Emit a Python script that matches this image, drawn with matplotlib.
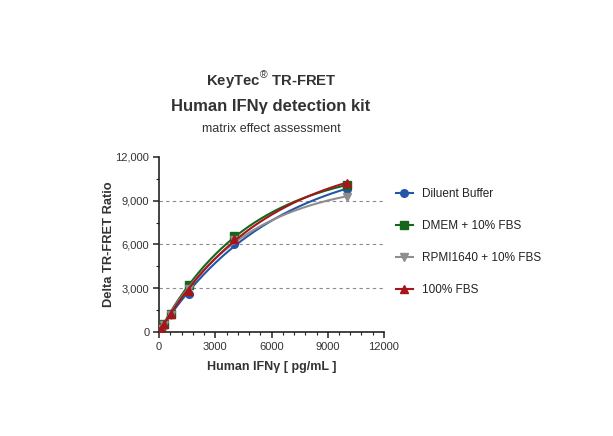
import numpy as np
import matplotlib
matplotlib.use("Agg")
import matplotlib.pyplot as plt
from matplotlib.ticker import FuncFormatter, MultipleLocator, AutoMinorLocator

plt.rcParams["font.family"] = ["Liberation Sans", "DejaVu Sans"]
plt.rcParams["mathtext.fontset"] = "custom"
plt.rcParams["mathtext.rm"] = "Liberation Sans"
plt.rcParams["mathtext.bf"] = "Liberation Sans:bold"

# standard concentrations (pg/mL)
conc = [0, 16, 41, 102, 256, 640, 1600, 4000, 10000]

series = ["Diluent Buffer", "DMEM + 10% FBS", "RPMI1640 + 10% FBS", "100% FBS"]
buffer_vals = [0, 30, 80, 200, 500, 1250, 2600, 6000, 9800]
dmem_vals = [0, 35, 90, 220, 560, 1250, 3250, 6550, 10050]
rpmi_vals = [0, 30, 85, 210, 460, 1200, 2950, 6300, 9250]
fbs_vals = [0, 35, 90, 220, 520, 1250, 2800, 6400, 10200]
grid_levels = [3000, 6000, 9000]

colors = ["#2356a8", "#16661a", "#8e8e8e", "#a8141c"]
markers = ["o", "s", "v", "^"]
draw_order = [3, 2, 1, 0]  # blue ends up on top


def fit_saturation(x, y):
    # one-phase association y = ymax * (1 - exp(-k x)), grid over k
    x = np.asarray(x, float); y = np.asarray(y, float)
    best = None
    for k in np.linspace(2e-5, 1e-3, 2000):
        b = 1 - np.exp(-k * x)
        ymax = (b @ y) / (b @ b)
        err = np.sum((y - ymax * b) ** 2)
        if best is None or err < best[0]:
            best = (err, k, ymax)
    return best[1], best[2]


fig = plt.figure(figsize=(6.13, 4.36), dpi=100)
ax = fig.add_axes([159 / 613, 1 - 332 / 436, 225 / 613, 175 / 436])

all_vals = [buffer_vals, dmem_vals, rpmi_vals, fbs_vals]
xs = np.linspace(0, max(conc), 300)
for i in draw_order:
    k, ymax = fit_saturation(conc, all_vals[i])
    ax.plot(xs, ymax * (1 - np.exp(-k * xs)), color=colors[i], lw=1.5, zorder=3 + i)
    ax.plot(conc, all_vals[i], ls="none", marker=markers[i], ms=5.5,
            color=colors[i], zorder=3 + i)
# legend proxies in display order
handles = [ax.plot([], [], color=colors[i], marker=markers[i], ms=5.5, lw=1.5)[0]
           for i in range(4)]

ax.set_xlim(0, 12000)
ax.set_ylim(0, 12000)
ax.xaxis.set_major_locator(MultipleLocator(3000))
ax.xaxis.set_minor_locator(AutoMinorLocator(5))
ax.yaxis.set_major_locator(MultipleLocator(3000))
ax.yaxis.set_minor_locator(AutoMinorLocator(2))
ax.yaxis.set_major_formatter(FuncFormatter(lambda v, p: f"{v:,.0f}"))
for lvl in grid_levels:
    ax.axhline(lvl, color="#8a8a8a", lw=0.8, ls=(0, (3, 3)), zorder=1)

for s in ["top", "right"]:
    ax.spines[s].set_visible(False)
for s in ["left", "bottom"]:
    ax.spines[s].set_linewidth(1.2)
    ax.spines[s].set_color("#222222")
ax.tick_params(which="major", length=4, width=1.1, color="#222222",
               labelsize=8, labelcolor="#333333", pad=3)
ax.tick_params(which="minor", length=2, width=0.8, color="#222222")

ax.set_xlabel("Human IFN\u03b3 [ pg/mL ]", fontsize=9, fontweight="bold",
              color="#333333", labelpad=7)
ax.set_ylabel("Delta TR-FRET Ratio", fontsize=9.3, fontweight="bold",
              color="#333333", labelpad=0)

cx = 271 / 613
fig.text(cx, 1 - 80 / 436, r"KeyTec$^{\circledR}$ TR-FRET", ha="center", va="center",
         fontsize=10.7, fontweight="bold", color="#333333")
fig.text(cx, 1 - 106 / 436, "Human IFN\u03b3 detection kit", ha="center", va="center",
         fontsize=12, fontweight="bold", color="#333333")
fig.text(cx, 1 - 129 / 436, "matrix effect assessment", ha="center", va="center",
         fontsize=9, color="#333333")

fig.legend(handles, series, loc="upper left", bbox_to_anchor=(396 / 613, 1 - 188 / 436),
           frameon=False, fontsize=8.5, labelspacing=1.7, handlelength=1.4,
           handletextpad=0.8, borderpad=0, borderaxespad=0, labelcolor="#222222")

fig.savefig("out.png", dpi=100)
